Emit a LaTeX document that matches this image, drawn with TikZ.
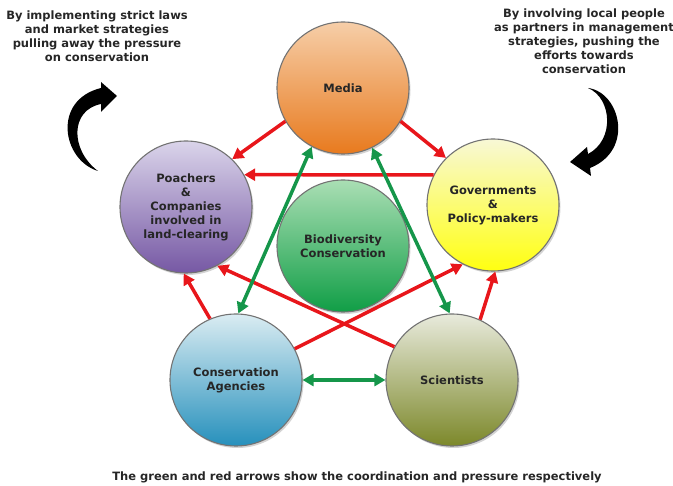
\documentclass[tikz,border=0pt]{standalone}
\usepackage{fontspec}
\setmainfont{DejaVu Sans}
\usepackage{tikz}
\usetikzlibrary{arrows.meta,shadows}

\definecolor{pressure}{HTML}{E8161B}
\definecolor{coord}{HTML}{15964A}
\definecolor{txt}{HTML}{262626}

\begin{document}
\begin{tikzpicture}[x=1pt,y=-1pt]
\tikzset{actor/.style={circle,minimum size=132pt,inner sep=0pt,draw=black!55,line width=1.1pt,drop shadow={opacity=0.35,shadow xshift=1.5pt,shadow yshift=-2pt},align=center,text=txt,font=\bfseries\fontsize{11.5}{14}\selectfont},
  note/.style={align=center,text=txt,font=\bfseries\fontsize{11.5}{14}\selectfont},
  press/.style={draw=pressure,line width=3.5pt,-{Triangle[length=11pt,width=12pt]}},
  coop/.style={draw=coord,line width=3.5pt,{Triangle[length=11pt,width=12pt]}-{Triangle[length=11pt,width=12pt]}}}
\useasboundingbox (0,0) rectangle (673,486);

\node[actor,top color={rgb,255:red,246;green,206;blue,168},bottom color={rgb,255:red,232;green,122;blue,30}] (media) at (343,88) {Media};
\node[actor,top color={rgb,255:red,218;green,212;blue,234},bottom color={rgb,255:red,118;green,88;blue,164}] (poachers) at (186,207) {Poachers\\\&\\Companies\\involved in\\land-clearing};
\node[actor,top color={rgb,255:red,248;green,248;blue,214},bottom color={rgb,255:red,255;green,255;blue,16}] (govt) at (493,205) {Governments\\\&\\Policy-makers};
\node[actor,top color={rgb,255:red,170;green,222;blue,180},bottom color={rgb,255:red,16;green,158;blue,70}] (biodiv) at (343,246) {Biodiversity\\Conservation};
\node[actor,top color={rgb,255:red,218;green,236;blue,242},bottom color={rgb,255:red,38;green,144;blue,188}] (agencies) at (236,380) {Conservation\\Agencies};
\node[actor,top color={rgb,255:red,232;green,234;blue,220},bottom color={rgb,255:red,124;green,136;blue,42}] (scientists) at (452,380) {Scientists};

% pressure
\draw[press] (media.210) -- (poachers.46);
\draw[press] (media.330) -- (govt.135);
\draw[press] (govt.153) -- (poachers.29);
\draw[press] (agencies.113) -- (poachers.268);
\draw[press] (scientists.150) -- (poachers.298);
\draw[press] (agencies.28) -- (govt.243);
\draw[press] (scientists.65) -- (govt.272);
% coordination
\draw[coop] (media.242) -- (agencies.88);
\draw[coop] (media.296) -- (scientists.92);
\draw[coop] (agencies.0) -- (scientists.180);

\node[note] (lnote) at (97,36) {By implementing strict laws\\and market strategies\\pulling away the pressure\\on conservation};
\node[note] (rnote) at (584,41) {By involving local people\\as partners in management\\strategies, pushing the\\efforts towards\\conservation};
\node[note] (caption) at (357,477) {The green and red arrows show the coordination and pressure respectively};

% curved arrows
\fill[black] (98,171) .. controls (62,160) and (52,100) .. (101,88) -- (101,82) -- (117,96) -- (101,112) -- (101,104) .. controls (70,110) and (70,150) .. (98,171) -- cycle;
\fill[black] (588,88) .. controls (620,92) and (635,150) .. (590,168) -- (591,176) -- (570,162) -- (587,147) -- (588,154) .. controls (615,140) and (612,98) .. (588,88) -- cycle;
\end{tikzpicture}
\end{document}
